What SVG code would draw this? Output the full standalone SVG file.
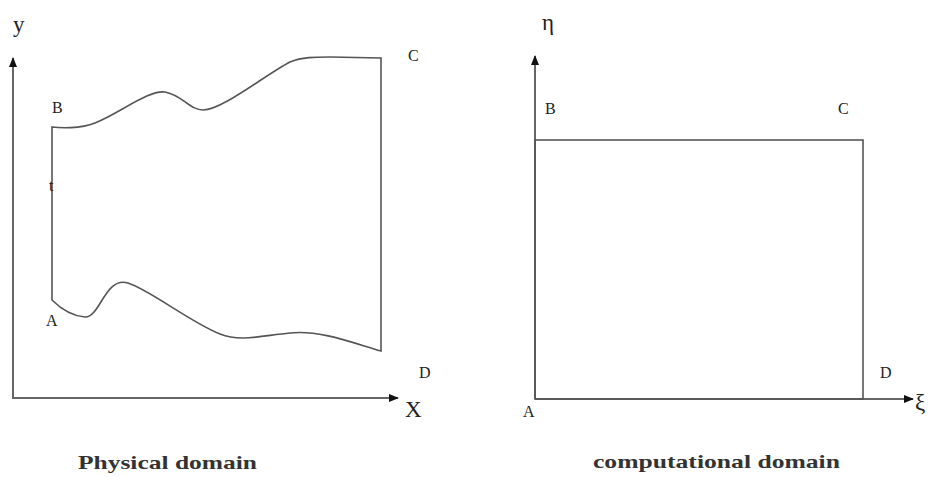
<svg xmlns="http://www.w3.org/2000/svg" width="930" height="477" viewBox="0 0 930 477">
<defs>
<marker id="ah" markerWidth="10" markerHeight="8" refX="9" refY="4" orient="auto" markerUnits="userSpaceOnUse">
<path d="M0,0 L10,4 L0,8 Z" fill="#111"/>
</marker>
<style>
.ax{stroke:#666;stroke-width:2;fill:none}
.ln{stroke:#555;stroke-width:1.6;fill:none}
.lb{font-family:"Liberation Serif",serif;font-size:16px;fill:#222}
.big{font-family:"Liberation Serif",serif;font-size:23px;fill:#222}
.cap{font-family:"Liberation Serif",serif;font-size:19px;font-weight:bold;fill:#333}
</style>
</defs>
<rect width="930" height="477" fill="#fff"/>
<g id="connectors">
<path class="ax" d="M13,399 V58" marker-end="url(#ah)"/>
<path class="ax" d="M13,398 H398" marker-end="url(#ah)"/>
<path class="ax" d="M535,399 V56" marker-end="url(#ah)"/>
<path class="ax" d="M535,399 H913" marker-end="url(#ah)"/>
</g>
<g id="physical-domain">
<path class="ln" d="M52,300 V127 C60,128 80,129 95,123 C120,113 148,90 165,92 C182,95 190,110 203,110 C222,110 265,75 290,62 C302,57 315,57 330,57 L381,58 V351 C350,342 320,330 290,333 C260,336 240,342 220,334 C190,322 150,290 128,283 C105,276 100,318 85,317 C72,316 60,308 52,300 Z"/>
<text class="lb" x="52" y="113">B</text>
<text class="lb" x="49" y="191" font-size="14">t</text>
<text class="lb" x="46" y="326">A</text>
<text class="lb" x="408" y="61">C</text>
<text class="lb" x="419" y="378">D</text>
<text class="big" x="13" y="32">y</text>
<text class="big" x="405" y="417">X</text>
<text class="cap" x="78" y="469" textLength="179" lengthAdjust="spacingAndGlyphs">Physical domain</text>
</g>
<g id="computational-domain">
<rect class="ln" x="535" y="140" width="328" height="259" stroke="#444"/>
<text class="lb" x="545" y="114">B</text>
<text class="lb" x="838" y="114">C</text>
<text class="lb" x="880" y="378">D</text>
<text class="lb" x="523" y="417">A</text>
<text class="big" x="542" y="30">η</text>
<text class="big" x="915" y="410">ξ</text>
<text class="cap" x="593" y="468" textLength="247" lengthAdjust="spacingAndGlyphs">computational domain</text>
</g>
</svg>
